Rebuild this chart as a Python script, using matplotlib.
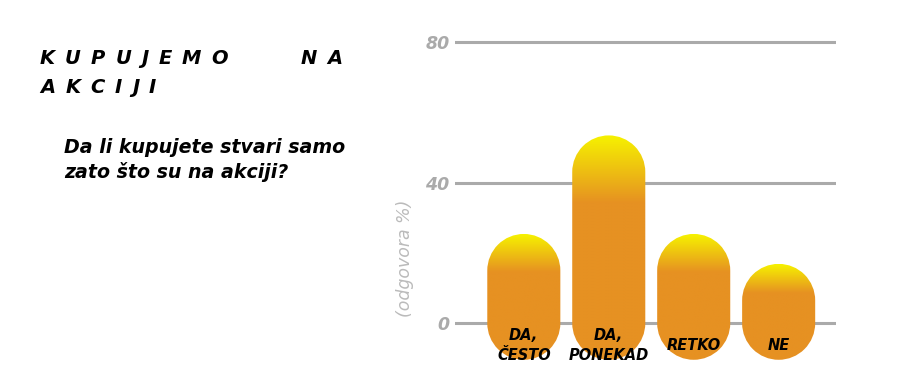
import numpy as np
import matplotlib
matplotlib.use('Agg')
import matplotlib.pyplot as plt
from matplotlib.path import Path
from matplotlib.patches import PathPatch
from matplotlib.transforms import IdentityTransform
from matplotlib.colors import to_rgb

# data
categories = ['DA,\nČESTO', 'DA,\nPONEKAD', 'RETKO', 'NE']
values = [15, 43, 15, 6.5]
yticks = [0, 40, 80]

FONT = 'DejaVu Sans'
YELLOW = '#f6f200'
ORANGE = '#e69122'
GRID = '#aaaaaa'

fig = plt.figure(figsize=(9, 3.84), dpi=100)
ax = fig.add_axes([455 / 900, 0.0482, (836 - 455) / 900, 0.9096 - 0.0482])
ax.set_xlim(-0.81, 3.675)
ax.set_ylim(-12, 82)
for s in ax.spines.values():
    s.set_visible(False)
ax.set_xticks([])
ax.set_yticks(yticks)
ax.set_yticklabels([str(t) for t in yticks], family=FONT, fontweight='bold',
                   style='italic', fontsize=12.5, color=GRID)
ax.tick_params(axis='y', length=0, pad=4)
for t in yticks:
    ax.axhline(t, color=GRID, lw=2.2, zorder=1)

# pill shaped bars with a gradient on top
w = 0.86
ppu = ax.transData.transform((0, 1))[1] - ax.transData.transform((0, 0))[1]
for i, v in enumerate(values):
    x0, y0 = ax.transData.transform((i - w / 2, 0))
    x1, y1 = ax.transData.transform((i + w / 2, v))
    r = (x1 - x0) / 2
    cx = (x0 + x1) / 2
    top = Path.arc(0, 180)
    bot = Path.arc(180, 360)
    verts = np.vstack([top.vertices * r + (cx, y1), bot.vertices * r + (cx, y0), [[0, 0]]])
    codes = list(top.codes) + [Path.LINETO] + list(bot.codes[1:]) + [Path.CLOSEPOLY]
    patch = PathPatch(Path(verts, codes), transform=IdentityTransform(), facecolor='none',
                      edgecolor='none')
    rd = r / ppu
    ytop, ybot = v + rd, -rd
    n = 300
    frac = np.linspace(0, 1, n)  # 0 at top
    g = np.clip(frac / 0.30, 0, 1)
    c0, c1 = np.array(to_rgb(YELLOW)), np.array(to_rgb(ORANGE))
    img = (c0[None, :] * (1 - g[:, None]) + c1[None, :] * g[:, None])[:, None, :]
    im = ax.imshow(img, extent=(i - w / 2, i + w / 2, ybot, ytop), aspect='auto',
                   origin='upper', zorder=2, interpolation='bilinear')
    im.set_clip_path(patch)
    ax.text(i, -6.3, categories[i], ha='center', va='center', family=FONT,
            fontweight='bold', style='italic', fontsize=10.5, linespacing=1.45, zorder=3)

ax.set_xlim(-0.81, 3.675)
ax.set_ylim(-12, 82)

fig.text(405 / 900, 1 - 258 / 384, '(odgovora %)', rotation=90, ha='center', va='center',
         family=FONT, style='italic', fontsize=12.5, color='#bbbbbb')

# title with letter spacing
renderer = fig.canvas.get_renderer()
gap, space_w = 10.0, 11.0
for line, base in [('KUPUJEMO   NA', 64), ('AKCIJI', 93)]:
    x = 40.0
    for ch in line:
        if ch == ' ':
            x += space_w + gap
            continue
        t = fig.text(x / 900, 1 - base / 384, ch, family=FONT, fontweight='bold',
                     style='italic', fontsize=14, color='black', va='baseline', ha='left')
        x += t.get_window_extent(renderer).width + gap

sub_kw = dict(family=FONT, fontweight='bold', style='italic', fontsize=13.7, color='black',
              va='baseline', ha='left')
fig.text(64 / 900, 1 - 153 / 384, 'Da li kupujete stvari samo', **sub_kw)
fig.text(64 / 900, 1 - 178 / 384, 'zato što su na akciji?', **sub_kw)

fig.savefig('out.png', dpi=100)
